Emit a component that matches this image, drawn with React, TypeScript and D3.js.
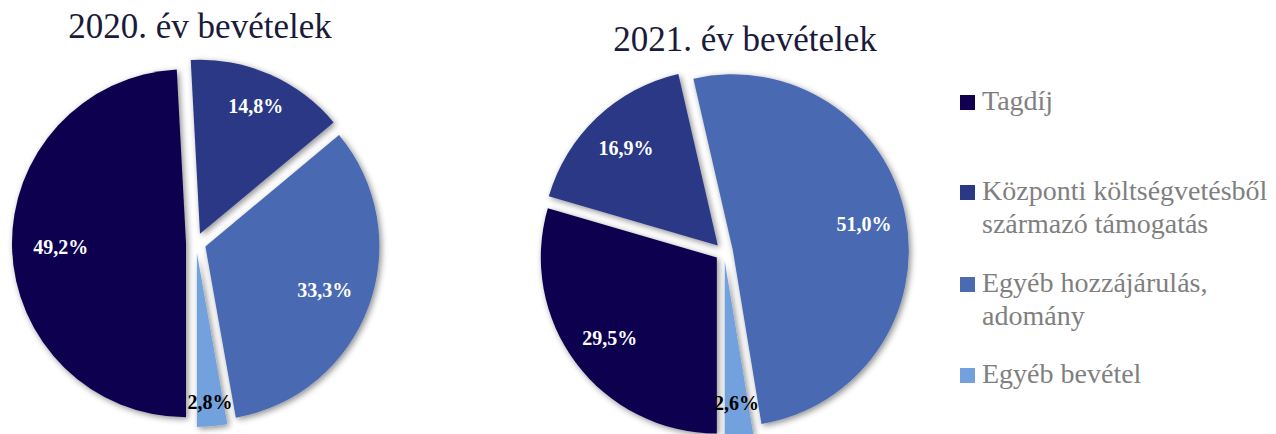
import React from "react";
import * as d3 from "d3";

const categories = [
  "Tagdíj",
  "Központi költségvetésből származó támogatás",
  "Egyéb hozzájárulás, adomány",
  "Egyéb bevétel",
];
const legendLines = [
  ["Tagdíj"],
  ["Központi költségvetésből", "származó támogatás"],
  ["Egyéb hozzájárulás,", "adomány"],
  ["Egyéb bevétel"],
];
const values2020 = [49.2, 14.8, 33.3, 2.8];
const values2021 = [29.5, 16.9, 51.0, 2.6];
const titles = ["2020. év bevételek", "2021. év bevételek"];

const colors = ["#10004f", "#2b3885", "#4a6bb2", "#72a1dd"];
const labelColors = ["#ffffff", "#ffffff", "#ffffff", "#000000"];
const serif = "'Liberation Serif', 'Times New Roman', serif";

type PieProps = {
  values: number[];
  cx: number;
  cy: number;
  r: number;
  explode: number;
  labelFrac: number[];
  title: string;
  titleX: number;
  titleY: number;
};

function Pie({ values, cx, cy, r, explode, labelFrac, title, titleX, titleY }: PieProps) {
  const pie = d3
    .pie<number>()
    .sort(null)
    .value((d) => d)
    .startAngle(Math.PI)
    .endAngle(3 * Math.PI);
  const arcs = pie(values);
  const arc = d3.arc<d3.PieArcDatum<number>>().innerRadius(0).outerRadius(r);
  const fmt = (v: number) => v.toFixed(1).replace(".", ",") + "%";
  return (
    <g>
      <text
        x={titleX}
        y={titleY}
        textAnchor="middle"
        style={{ fontFamily: serif, fontSize: 35 }}
        fill="#1a1a3a"
      >
        {title}
      </text>
      <g transform={`translate(${cx},${cy})`}>
        {arcs.map((a, i) => {
          const mid = (a.startAngle + a.endAngle) / 2;
          const ox = Math.sin(mid) * explode;
          const oy = -Math.cos(mid) * explode;
          return (
            <g key={i} transform={`translate(${ox},${oy})`}>
              <path d={arc(a) || ""} fill={colors[i]} filter="url(#shadow)" />
            </g>
          );
        })}
        {arcs.map((a, i) => {
          const mid = (a.startAngle + a.endAngle) / 2;
          const rr = explode + r * labelFrac[i];
          const lx = Math.sin(mid) * rr;
          const ly = -Math.cos(mid) * rr;
          return (
            <text
              key={"l" + i}
              x={lx}
              y={ly}
              dy="0.35em"
              textAnchor="middle"
              style={{ fontFamily: serif, fontSize: 20, fontWeight: "bold" }}
              fill={labelColors[i]}
            >
              {fmt(a.data)}
            </text>
          );
        })}
      </g>
    </g>
  );
}

export default function App() {
  const W = 1276;
  const H = 434;
  const legendX = 960;
  const legendBaselines = [110, 200, 292, 383];
  const lineGap = 33;
  return (
    <svg
      width={W}
      height={H}
      style={{ position: "absolute", left: 0, top: 0, background: "#ffffff" }}
    >
      <defs>
        <filter id="shadow" x="-20%" y="-20%" width="140%" height="140%">
          <feDropShadow dx="2" dy="2" stdDeviation="3" floodColor="#000" floodOpacity="0.45" />
        </filter>
      </defs>
      <rect x={0} y={0} width={W} height={H} fill="#ffffff" />
      <Pie
        values={values2020}
        cx={196}
        cy={243}
        r={174}
        explode={10}
        labelFrac={[0.72, 0.8, 0.73, 0.86]}
        title={titles[0]}
        titleX={200}
        titleY={38}
      />
      <Pie
        values={values2021}
        cx={724}
        cy={252}
        r={176}
        explode={9}
        labelFrac={[0.76, 0.76, 0.76, 0.81]}
        title={titles[1]}
        titleX={745}
        titleY={51}
      />
      <g>
        {categories.map((c, i) => (
          <g key={c}>
            <rect
              x={legendX}
              y={legendBaselines[i] - 15}
              width={15}
              height={15}
              fill={colors[i]}
            />
            {legendLines[i].map((line, j) => (
              <text
                key={j}
                x={legendX + 22}
                y={legendBaselines[i] + j * lineGap}
                style={{ fontFamily: serif, fontSize: 28 }}
                fill="#7f7f7f"
              >
                {line}
              </text>
            ))}
          </g>
        ))}
      </g>
    </svg>
  );
}
